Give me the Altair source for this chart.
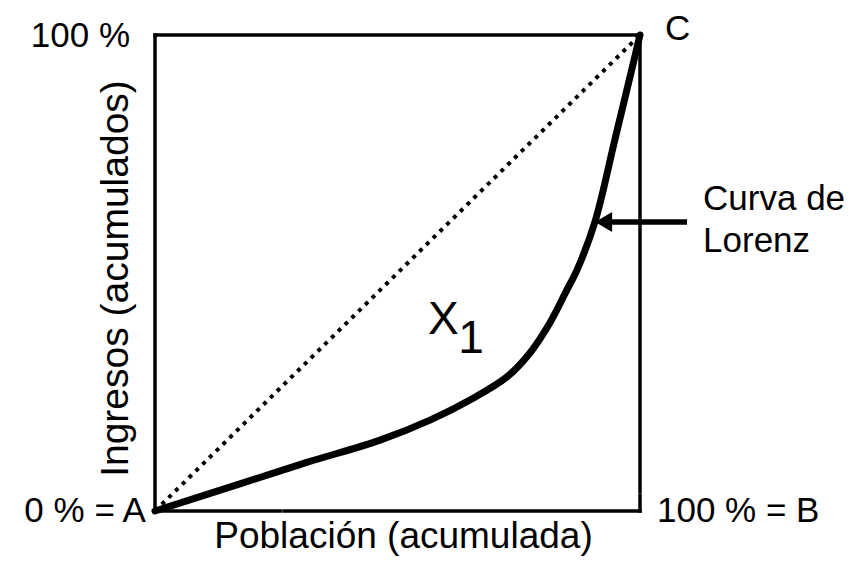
import altair as alt
import pandas as pd

# ---- data (fractions of the whole: 0 = 0 %, 1 = 100 %) ----
lorenz_x = [0.0, 0.175, 0.313, 0.464, 0.567, 0.656, 0.726, 0.773, 0.814, 0.849, 0.870, 0.907, 0.948, 1.0]
lorenz_y = [0.0, 0.057, 0.102, 0.149, 0.191, 0.237, 0.282, 0.332, 0.395, 0.464, 0.506, 0.607, 0.779, 1.0]

equality_x = [0.0, 1.0]
equality_y = [0.0, 1.0]

# box outline segments (x, x2, y, y2)
box_x = [0.0, 0.0, 1.0, 1.0, 0.0, 0.266]
box_x2 = [0.0, 1.0, 1.0, 1.0, 0.258, 1.0]
box_y = [0.0, 1.0, 1.0, 0.032, 0.0, 0.0]
box_y2 = [1.0, 1.0, 0.040, 0.0, 0.0, 0.0]

labels_right_text = ["100 %", "0 % = A"]
labels_right_x = [-0.0515, -0.0186]
labels_right_y = [0.975, -0.0231]

labels_left_text = ["C", "100 % = B", "Curva de", "Lorenz"]
labels_left_x = [1.0515, 1.035, 1.130, 1.130]
labels_left_y = [0.989, -0.0231, 0.632, 0.544]

area_text = ["X", "1"]
area_x = [0.563, 0.625]
area_y = [0.372, 0.332]

arrow_x = [0.928, 1.097]
arrow_y = [0.607, 0.607]
arrow_head_x = [0.925]
arrow_head_y = [0.607]

FONT = "Liberation Sans"
W, H = 485, 476

x_axis = alt.Axis(title="Población (acumulada)", domain=False, ticks=False, labels=False,
                  grid=False, titleFont=FONT, titleFontSize=37, titleFontWeight="normal",
                  titleColor="black", titleX=248, titleY=36, titleBaseline="alphabetic",
                  titleAnchor="middle")
y_axis = alt.Axis(title="Ingresos (acumulados)", domain=False, ticks=False, labels=False,
                  grid=False, titleFont=FONT, titleFontSize=39, titleFontWeight="normal",
                  titleColor="black", titleX=-28, titleY=243, titleAngle=270,
                  titleBaseline="alphabetic", titleAnchor="middle")


def X(field):
    return alt.X(f"{field}:Q", scale=alt.Scale(domain=[0, 1], nice=False, zero=False),
                 axis=x_axis)


def Y(field):
    return alt.Y(f"{field}:Q", scale=alt.Scale(domain=[0, 1], nice=False, zero=False),
                 axis=y_axis)


box_df = pd.DataFrame({"x": box_x, "x2": box_x2, "y": box_y, "y2": box_y2})
box = alt.Chart(box_df).mark_rule(color="black", strokeWidth=3.5, strokeCap="square").encode(
    x=X("x"), x2="x2", y=Y("y"), y2="y2")

eq_df = pd.DataFrame({"x": equality_x, "y": equality_y})
equality = alt.Chart(eq_df).mark_line(color="black", strokeWidth=4, strokeDash=[4, 5.5],
                                      strokeCap="butt").encode(x=X("x"), y=Y("y"))

lz_df = pd.DataFrame({"x": lorenz_x, "y": lorenz_y})
lorenz = alt.Chart(lz_df).mark_line(color="black", strokeWidth=7, interpolate="catmull-rom",
                                    strokeCap="round").encode(x=X("x"), y=Y("y"), order="x:Q")

ar_df = pd.DataFrame({"x": arrow_x, "y": arrow_y})
arrow = alt.Chart(ar_df).mark_line(color="black", strokeWidth=5.5, strokeCap="butt").encode(
    x=X("x"), y=Y("y"))

ah_df = pd.DataFrame({"x": arrow_head_x, "y": arrow_head_y})
arrow_head = alt.Chart(ah_df).mark_point(shape="M-1,0L1,-1.18L1,1.18Z", size=289, filled=True,
                                         color="black", opacity=1, strokeWidth=0).encode(
    x=X("x"), y=Y("y"))

lr_df = pd.DataFrame({"t": labels_right_text, "x": labels_right_x, "y": labels_right_y})
labels_right = alt.Chart(lr_df).mark_text(font=FONT, fontSize=35, align="right",
                                          baseline="alphabetic", color="black").encode(
    x=X("x"), y=Y("y"), text="t:N")

ll_df = pd.DataFrame({"t": labels_left_text, "x": labels_left_x, "y": labels_left_y})
labels_left = alt.Chart(ll_df).mark_text(font=FONT, fontSize=35, align="left",
                                         baseline="alphabetic", color="black").encode(
    x=X("x"), y=Y("y"), text="t:N")

ax_df = pd.DataFrame({"t": area_text, "x": area_x, "y": area_y})
area_label = alt.Chart(ax_df).mark_text(font=FONT, fontSize=46, align="left",
                                        baseline="alphabetic", color="black").encode(
    x=X("x"), y=Y("y"), text="t:N")

chart = alt.layer(box, equality, lorenz, arrow, arrow_head, labels_right, labels_left,
                  area_label).properties(
    width=W, height=H,
    autosize=alt.AutoSizeParams(type="none"),
    padding={"left": 147, "top": 27, "right": 212, "bottom": 46},
    background="white",
).configure_view(stroke=None)

chart.save("out.html", embed_options={"renderer": "svg", "actions": False})
